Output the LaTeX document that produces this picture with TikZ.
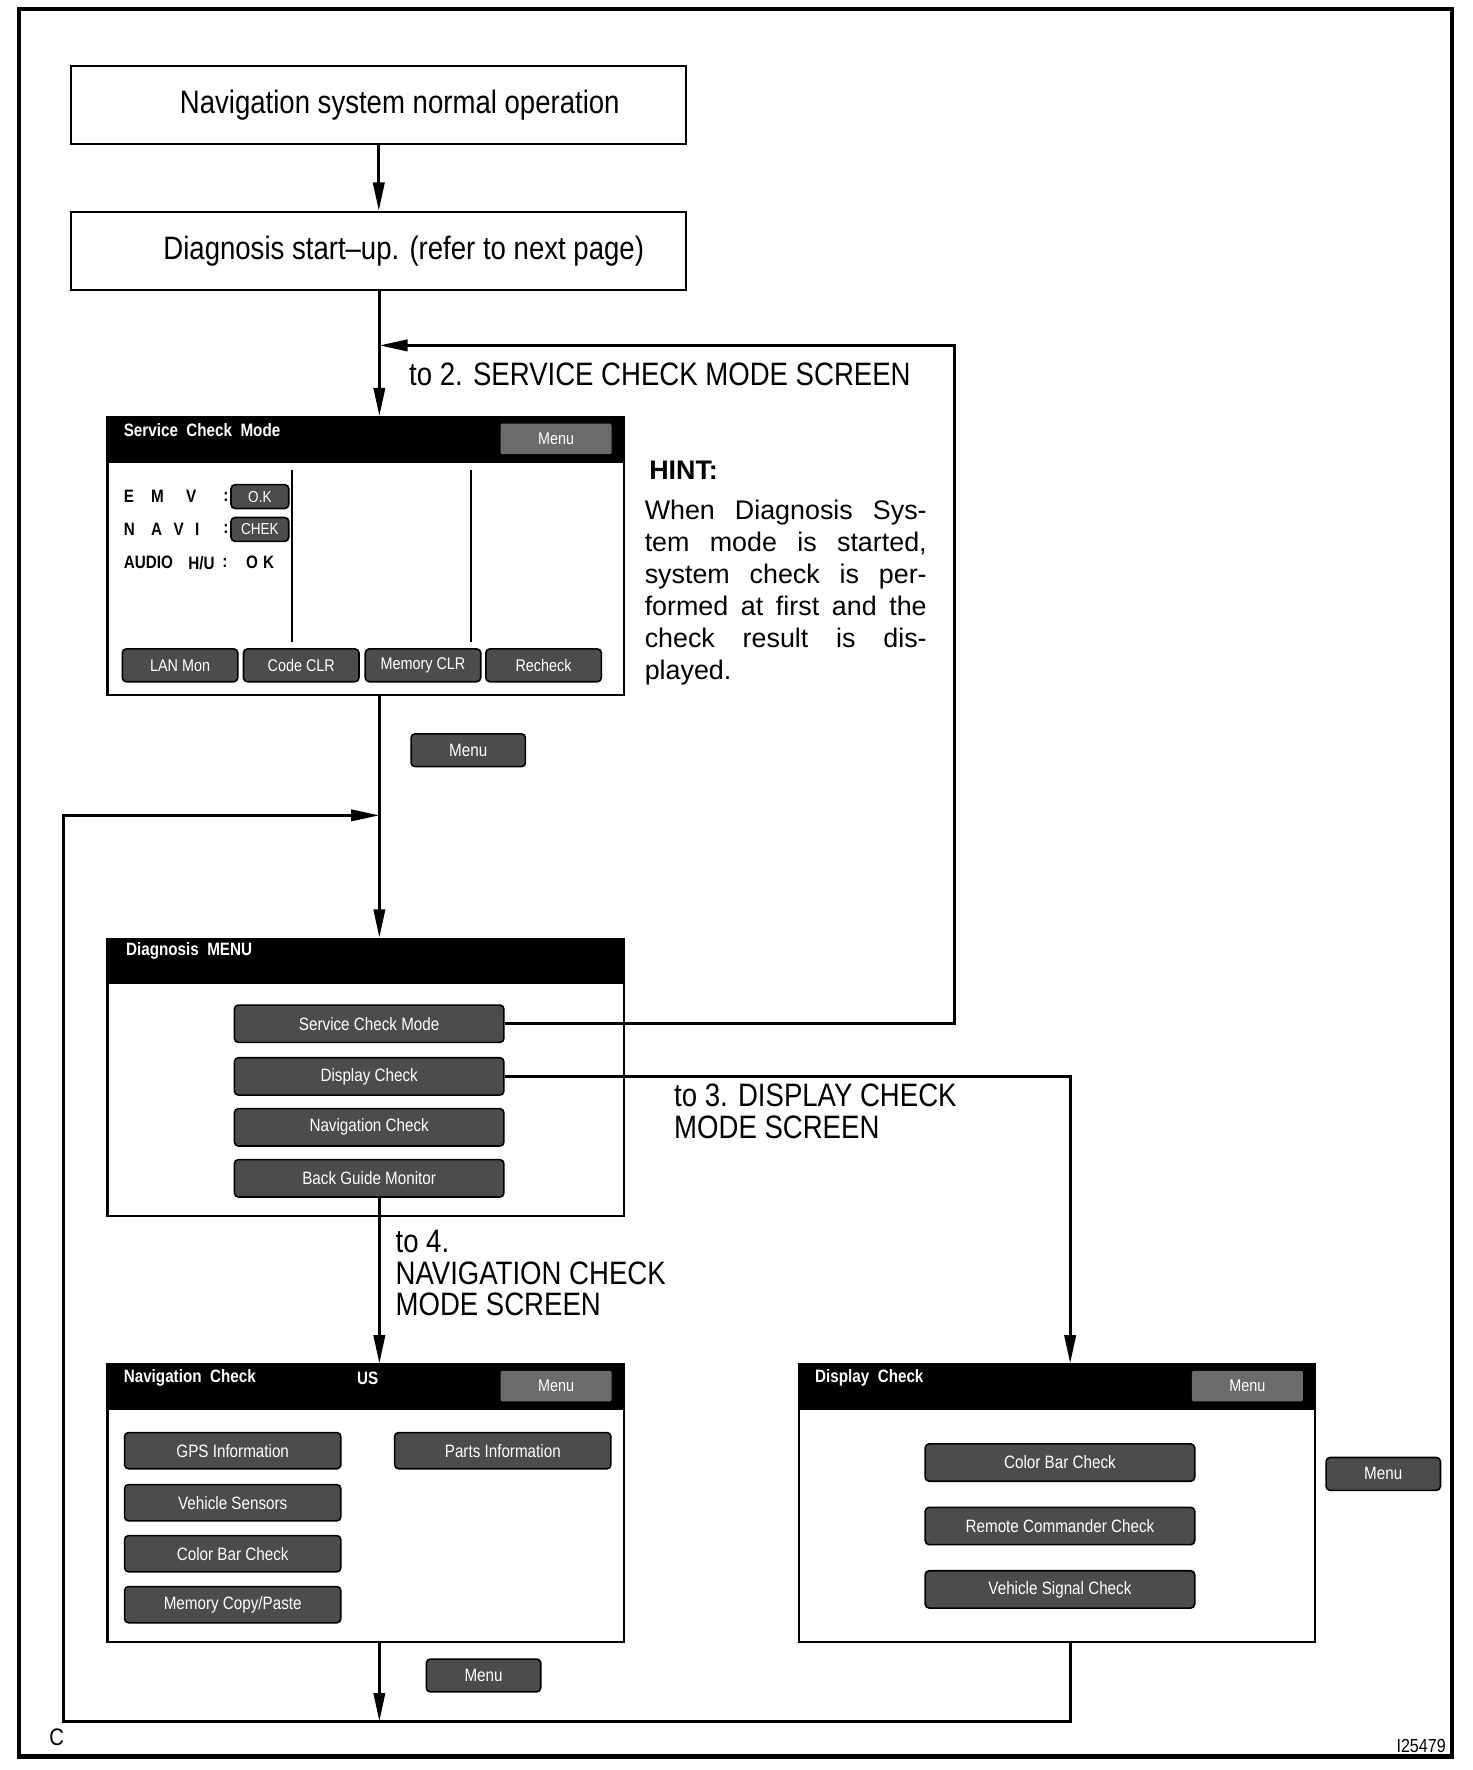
\documentclass[tikz,border=0pt]{standalone}
\usepackage{fontspec}
\setmainfont{Liberation Sans}[FakeStretch=0.85]
\newfontfamily\hintfont{Liberation Sans}
\usetikzlibrary{arrows.meta,positioning}

\tikzset{
  box/.style={draw, line width=1pt, minimum width=10.86cm, minimum height=1.38cm,
    inner sep=0, font=\fontsize{16.3}{19}\selectfont},
  screen/.style={draw, line width=1.2pt, minimum width=9.12cm, minimum height=4.9cm, inner sep=0},
  btn/.style={draw=black, line width=0.8pt, fill=black!70, rounded corners=2pt, text=white,
    inner sep=0, font=\fontsize{9}{10}\selectfont},
  hbtn/.style={fill=black!58, rounded corners=1pt, text=white, inner sep=0,
    minimum width=1.96cm, minimum height=0.54cm, font=\fontsize{8.5}{9}\selectfont},
  title/.style={anchor=west, text=white, inner sep=0, font=\bfseries\fontsize{9}{10}\selectfont},
  sml/.style={anchor=west, inner sep=0, font=\bfseries\fontsize{9}{10}\selectfont},
  lbl/.style={anchor=north west, align=left, inner sep=0, font=\fontsize{16.3}{15.9}\selectfont},
  hintline/.style={anchor=base west, inner sep=0, font=\hintfont\fontsize{13.5}{16}\selectfont},
  arr/.style={line width=1.4pt, -{Triangle[length=0.5cm,width=0.2cm]}},
}

\begin{document}
\begin{tikzpicture}[x=0.02cm, y=-0.02cm]
\useasboundingbox (0,0) rectangle (1300,1563);

% рамка
\draw[line width=2.2pt] (17,8) rectangle (1282,1551);

% верхние блоки
\node[box] (normal) at (334.5,92.5) {\hspace*{0.74cm}Navigation system normal operation};
\node[box] (start) at (334.5,221.5) {\hspace*{0.88cm}Diagnosis start–up. (refer to next page)};

% экраны
\node[screen] (scm) at (323,491) {};
\node[screen] (dm) at (323,951.5) {};
\node[screen] (ncs) at (323,1327.5) {};
\node[screen] (dcs) at (933.5,1327.5) {};

\foreach \s in {scm,dm,ncs,dcs}
  \fill (\s.north west) rectangle ([yshift=-0.82cm]\s.north east);

% заголовки
\node[title] (scmt) at ([xshift=0.3cm,yshift=-0.24cm]scm.north west) {Service\ \ Check\ \ Mode};
\node[title] (dmt) at ([xshift=0.34cm,yshift=-0.24cm]dm.north west) {Diagnosis\ \ MENU};
\node[title] (ncst) at ([xshift=0.3cm,yshift=-0.26cm]ncs.north west) {Navigation\ \ Check};
\node[title] (ncsus) at ([xshift=4.42cm,yshift=-0.26cm]ncs.north west) {US};
\node[title] (dcst) at ([xshift=0.3cm,yshift=-0.26cm]dcs.north west) {Display\ \ Check};

\foreach \s in {scm,ncs,dcs}
  \node[hbtn] (\s menu) at ([xshift=-1.22cm,yshift=-0.4cm]\s.north east) {Menu};

% Service Check Mode
\draw[line width=1pt] (258,415) -- (258,567);
\draw[line width=1pt] (416,415) -- (416,567);

\foreach \c/\x in {E/109,M/133,V/164,:/197}
  \node[sml] (emv\x) at (\x,438.5) {\c};
\foreach \c/\x in {N/109,A/133,V/153,I/172,:/197}
  \node[sml] (navi\x) at (\x,467.5) {\c};
\foreach \c/\x in {AUDIO/109,{H/U}/166,:/196,O/217,K/232}
  \node[sml] (audio\x) at (\x,497) {\c};

\node[btn, minimum width=1.02cm, minimum height=0.42cm, font=\fontsize{8}{9}\selectfont] (emvok) at (229.5,438.5) {O.K};
\node[btn, minimum width=1.02cm, minimum height=0.42cm, font=\fontsize{8}{9}\selectfont] (navichk) at (229.5,467.5) {CHEK};

\foreach \t/\x [count=\i] in {LAN Mon/159,Code CLR/266,Memory CLR/373.5,Recheck/480}
  \node[btn, minimum width=2.04cm, minimum height=0.58cm, font=\fontsize{8.5}{9}\selectfont] (scmb\i) at (\x,587.5) {\t};

% Diagnosis MENU
\foreach \t/\y/\n in {Service Check Mode/904/bscm, Display Check/950.5/bdisp,
    Navigation Check/995.5/bnav, Back Guide Monitor/1040.5/bback}
  \node[btn, minimum width=4.76cm, minimum height=0.66cm] (\n) at (326,\y) {\t};

% Navigation Check
\foreach \t/\y [count=\i] in {GPS Information/1281, Vehicle Sensors/1327,
    Color Bar Check/1372, {Memory Copy/Paste}/1417}
  \node[btn, minimum width=3.82cm, minimum height=0.64cm] (ncsb\i) at (205.5,\y) {\t};
\node[btn, minimum width=3.82cm, minimum height=0.64cm] (ncsparts) at (444,1281) {Parts Information};

% Display Check
\foreach \t/\y [count=\i] in {Color Bar Check/1291.5, Remote Commander Check/1347.5,
    Vehicle Signal Check/1403.5}
  \node[btn, minimum width=4.76cm, minimum height=0.66cm] (dcsb\i) at (936,\y) {\t};

% кнопки Menu
\node[btn, minimum width=2.02cm, minimum height=0.58cm] (menua) at (413.5,662.5) {Menu};
\node[btn, minimum width=2.02cm, minimum height=0.58cm] (menub) at (427,1479.5) {Menu};
\node[btn, minimum width=2.02cm, minimum height=0.58cm] (menuc) at (1221.5,1301.5) {Menu};

% линии
\coordinate (spine) at (335,0);
\coordinate (dcx) at (945,0);
\coordinate (ret2) at (843,305);
\coordinate (loopbl) at (56,1520);
\coordinate (looptl) at (56,720);

\draw[arr] (normal) -- (start);
\draw[arr] (start.south -| spine) -- (scm.north -| spine);
\draw[arr] (scm.south -| spine) -- (dm.north -| spine);
\draw[arr] (bback.south -| spine) -- (ncs.north -| spine);
\draw[arr] (bscm.east) -| (ret2) -- (spine |- ret2);
\draw[arr] (bdisp.east) -| (dcs.north -| dcx);
\draw[arr] (dcs.south -| dcx) |- (loopbl) -- (looptl) -- (spine |- looptl);
\draw[arr] (ncs.south -| spine) -- (spine |- loopbl);

% подписи
\node[lbl] (to2) at (361,320) {to 2. SERVICE CHECK MODE SCREEN};
\node[lbl] (to3) at (595,957) {to 3. DISPLAY CHECK\\MODE SCREEN};
\node[lbl] (to4) at (349,1086) {to 4.\\NAVIGATION CHECK\\MODE SCREEN};

% подсказка
\node[anchor=base west, inner sep=0, font=\hintfont\bfseries\fontsize{13.5}{16}\selectfont] (hint) at (573,423) {HINT:};
\foreach \t [count=\i] in {When Diagnosis Sys-, {tem mode is started,}, system check is per-,
    formed at first and the, check result is dis-}
  \node[hintline] (hint\i) at (569,{459+28.2*(\i-1)}) {\makebox[4.98cm][s]{\t}};
\node[hintline] (hint6) at (569,600) {played.};

% метки
\node[inner sep=0, font=\fontsize{12}{14}\selectfont] (cmark) at (50,1534) {C};
\node[anchor=east, inner sep=0, font=\fontsize{9.5}{11}\selectfont] (code) at (1277,1542) {I25479};

\end{tikzpicture}
\end{document}
